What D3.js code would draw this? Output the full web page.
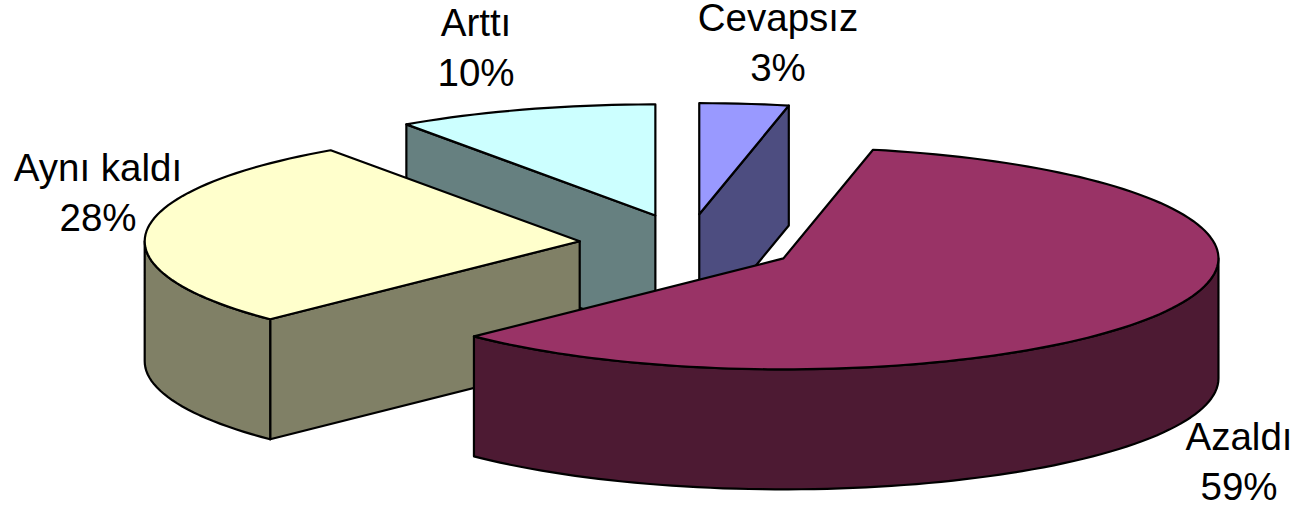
<!DOCTYPE html>
<html>
<head>
<meta charset="utf-8">
<script src="https://cdn.jsdelivr.net/npm/d3@7"></script>
<style>
  html, body { margin: 0; padding: 0; background: #fff; overflow: hidden; }
  text { font-family: "Liberation Sans", Arial, sans-serif; font-size: 38.5px; fill: #000; }
</style>
</head>
<body>
<div id="chart"></div>
<script>
// Data, in pie order, clockwise from 12 o'clock
const categories = ["Cevapsız", "Azaldı", "Aynı kaldı", "Arttı"];
const values = [3.3, 59.3, 27.7, 9.7];
const topColors = ["#9999ff", "#993366", "#ffffcc", "#ccffff"];
const sideColors = ["#4d4d80", "#4d1a33", "#808066", "#668080"];
const labelX = [778, 1239, 98, 476];
const labelY = [31, 450, 181, 36];

const width = 1296, height = 510;
const depth = 120;
const lineGap = 50;
const explodeX = 0.25, explodeY = 0.27;

// unit circle -> tilted ellipse on the page
const x = d3.scaleLinear().domain([-1, 1]).range([253, 1123]);
const y = d3.scaleLinear().domain([-1, 1]).range([133, 355]);

const svg = d3.select("#chart").append("svg").attr("width", width).attr("height", height);

const arcs = d3.pie().sort(null)(values);
const total = d3.sum(values);
const pct = d => Math.round(d / total * 100) + "%";

const line = d3.line().x(d => d[0]).y(d => d[1]);

// one slice: top face plus whichever walls face the viewer
function drawSlice(g, a, i) {
    const mid = (a.startAngle + a.endAngle) / 2;
    const ux = explodeX * Math.sin(mid), uy = -explodeY * Math.cos(mid);
    const pt = (t, dz = 0) => [x(ux + Math.sin(t)), y(uy - Math.cos(t)) + dz];
    const apex = dz => [x(ux), y(uy) + dz];
    const rim = (t0, t1, dz) => d3.range(t0, t1, 0.03).concat([t1]).map(t => pt(t, dz));

    const face = (pts, fill) => g.append("path")
        .attr("d", line(pts) + "Z")
        .attr("fill", fill)
        .attr("stroke", "#000")
        .attr("stroke-width", 2.2)
        .attr("stroke-linejoin", "round");

    // radial walls
    if (Math.sin(a.startAngle) < -0.001) {
        face([pt(a.startAngle), apex(0), apex(depth), pt(a.startAngle, depth)], sideColors[i]);
    }
    if (Math.sin(a.endAngle) > 0.001) {
        face([pt(a.endAngle), apex(0), apex(depth), pt(a.endAngle, depth)], sideColors[i]);
    }
    // outer wall, front half of the ellipse only
    const f0 = Math.max(a.startAngle, Math.PI / 2), f1 = Math.min(a.endAngle, Math.PI * 1.5);
    if (f1 > f0) {
        face(rim(f0, f1, 0).concat(rim(f0, f1, depth).reverse()), sideColors[i]);
    }
    // top
    face([apex(0)].concat(rim(a.startAngle, a.endAngle, 0)), topColors[i]);
}

// back to front
[3, 0, 2, 1].forEach(i => drawSlice(svg.append("g").attr("class", "slice"), arcs[i], i));

const labels = svg.selectAll("text.label")
    .data(categories)
    .enter()
    .append("text")
    .attr("class", "label")
    .attr("text-anchor", "middle");
labels.append("tspan").attr("x", (d, i) => labelX[i]).attr("y", (d, i) => labelY[i]).text(d => d);
labels.append("tspan").attr("x", (d, i) => labelX[i]).attr("y", (d, i) => labelY[i] + lineGap).text((d, i) => pct(values[i]));
</script>
</body>
</html>
